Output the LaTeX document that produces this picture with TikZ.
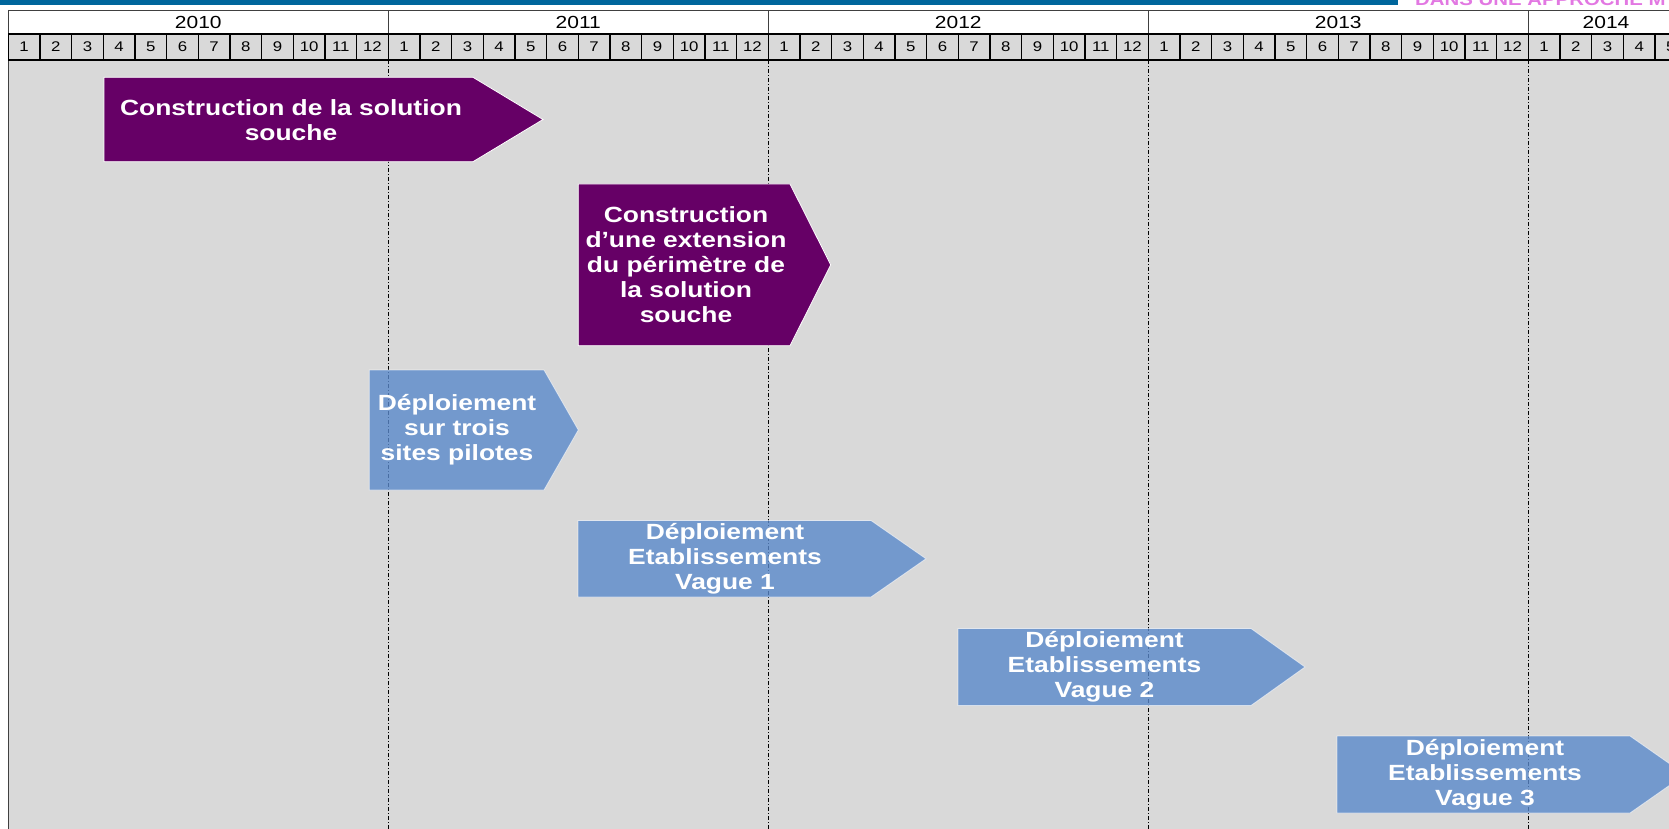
\documentclass[tikz,border=0pt]{standalone}
\usepackage{fontspec}
\setmainfont[FakeStretch=1.2]{Liberation Sans}
\definecolor{bandblue}{HTML}{00669C}
\definecolor{bggray}{HTML}{D9D9D9}
\definecolor{plum}{HTML}{660066}
\definecolor{steel}{RGB}{90,137,203}
\definecolor{pinkish}{RGB}{226,120,226}
\definecolor{linegray}{HTML}{404040}
\newcommand\chevshape[6]{\path[#6] (#1,#2) -- (#3,#2) -- (#5,{(#2+#4)/2}) -- (#3,#4) -- (#1,#4) -- cycle;}
\tikzset{
  yearcell/.style={fill=white, draw=linegray, line width=0.9pt},
  monthcell/.style={fill=bggray, draw=black, line width=1.1pt},
  yeartext/.style={font=\fontsize{17.5}{20}\selectfont, inner sep=0pt},
  monthtext/.style={font=\fontsize{14}{16}\selectfont, inner sep=0pt},
  yearsep/.style={draw=black, line width=0.8pt, dash pattern=on 4pt off 2pt on 1pt off 2pt},
  plumbox/.style={fill=plum, draw=white, line width=0.8pt},
  steelbox/.style={fill=steel, fill opacity=0.8, draw=white, draw opacity=0.6, line width=0.8pt},
  boxtext/.style={text=white, inner sep=0pt, align=center, font=\bfseries\fontsize{22}{25}\selectfont},
  bannertext/.style={text=pinkish, inner sep=0pt, font=\bfseries\fontsize{17}{19}\selectfont}
}
\begin{document}
\begin{tikzpicture}[x=1pt,y=-1pt]
\useasboundingbox (0,0) rectangle (1669,829);
% body background
\fill[bggray] (8.3,60) rectangle (1669,829);
\draw[linegray, line width=0.9pt] (8.3,10) -- (8.3,829);
% top band
\fill[bandblue] (0,0) rectangle (1398,4.7);
\node[bannertext, anchor=base west] (banner) at (1415,6) {DANS UNE APPROCHE M};
% years
\foreach \i/\yr/\cx in {0/2010/198.3,1/2011/578.3,2/2012/958.3,3/2013/1338.3,4/2014/1606}{
  \draw[yearcell] ({8.3+380*\i},10) rectangle ++(380,24);
  \node[yeartext] (y\yr) at (\cx,22.5) {\yr};
}
% months
\foreach \k in {0,...,52}{
  \pgfmathtruncatemacro\mo{mod(\k,12)+1}
  \draw[monthcell] ({8.3+31.667*\k},34) rectangle ++(31.667,26);
  \node[monthtext] (m\k) at ({8.3+31.667*\k+15.83},47) {\mo};
}
% year separators
\foreach \i in {1,2,3,4}{
  \coordinate (s\i top) at ({8.3+380*\i},60);
  \coordinate (s\i bot) at ({8.3+380*\i},829);
}
\foreach \i in {1,2,3,4}{ \draw[yearsep] (s\i top) -- (s\i bot); }
% purple shapes (opaque, hide separators)
\chevshape{104}{77.3}{473}{161.7}{543}{plumbox}
\chevshape{578.3}{184}{790}{345.7}{830.7}{plumbox}
% blue shapes (semi transparent)
\chevshape{369.3}{370}{544}{490}{578.3}{steelbox}
\chevshape{578}{520.5}{871}{597}{926}{steelbox}
\chevshape{958}{628.5}{1251}{705.5}{1305}{steelbox}
\chevshape{1337}{736}{1630}{813}{1685}{steelbox}
% texts
\node[boxtext] (t1) at (291,120) {Construction de la solution\\souche};
\node[boxtext] (t2) at (686,265) {Construction\\d’une extension\\du périmètre de\\la solution\\souche};
\node[boxtext] (t3) at (457,430) {Déploiement\\sur trois\\sites pilotes};
\node[boxtext] (t4) at (725,559) {Déploiement\\Etablissements\\Vague 1};
\node[boxtext] (t5) at (1104.5,667) {Déploiement\\Etablissements\\Vague 2};
\node[boxtext] (t6) at (1485,774.5) {Déploiement\\Etablissements\\Vague 3};
\end{tikzpicture}
\end{document}
